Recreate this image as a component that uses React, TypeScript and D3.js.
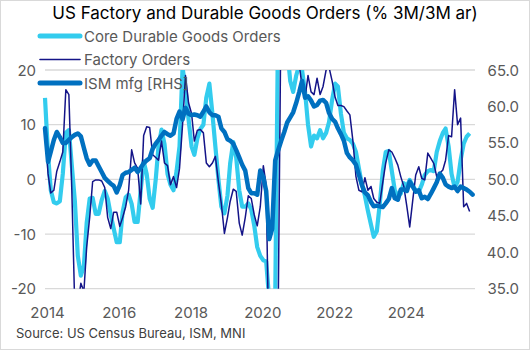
import React from 'react';
import * as d3 from 'd3';

// monthly, Jan 2014 onwards (% 3M/3M ar)
const coreDurable = [
  14.9, 4.5, -2.0, -4.2, -4.4, -4.0, 1.0, 8.5, 9.0, 2.5, -4.0, -14.0,
  -17.6, -15.8, -8.0, -3.5, -3.4, -6.3, -6.3, -3.8, -2.1, -3.5, -6.5, -9.0,
  -11.5, -11.5, -6.0, -3.3, -2.8, -4.5, -7.8, -7.8, -2.0, 3.3, 1.0, -3.5,
  -5.2, 0.0, 6.0, 9.1, 6.5, 1.0, -1.0, -2.0, 1.5, 6.0, 20.5, 16.5,
  11.0, 6.0, 4.5, 7.5, 9.2, 10.0, 15.0, 17.5, 12.0, 6.0, 0.0, -5.0,
  -6.2, -3.0, 3.0, 6.8, 4.0, -2.0, -5.0, -5.0, -4.4, -5.5, -8.5, -12.4,
  -14.0, -14.8, -15.0, -22.0, -32.0, -22.0, 30.0, 35.0, 28.0, 24.0, 18.0, 16.0,
  19.0, 21.0, 20.0, 16.0, 10.0, 6.0, 8.0, 7.5, 9.0, 7.5, 8.5, 10.5,
  14.5, 17.5, 17.0, 12.0, 8.5, 7.5, 7.2, 6.5, 5.0, 2.0, -1.0, -3.0,
  -5.8, -8.3, -10.5, -9.5, -4.5, 1.5, 5.0, 5.2, 1.5, -2.0, -3.0, -2.6,
  -0.7, -1.3, -0.1, -1.2, -2.0, -2.3, -1.0, 0.8, 1.5, 1.7, 1.5, 5.0,
  7.0, 8.5, 9.3, 6.0, 1.0, -1.5, -0.5, 3.5, 6.5, 7.8, 8.4,
];

const factoryOrders = [
  9.1, 1.0, -2.5, -2.0, 1.5, 3.2, 5.0, 16.4, 15.5, -2.0, -24.0, -23.0,
  -19.0, -20.5, -12.4, -6.9, -0.4, -0.1, -0.1, -0.3, -1.5, -7.0, -9.0, -6.0,
  -6.0, -8.6, -7.0, -5.0, -2.0, 5.4, 3.0, 2.0, -4.5, 8.0, 9.6, 9.5,
  4.5, 4.0, 3.5, 7.0, 3.0, 2.5, -1.0, 0.5, -1.5, 2.0, 10.0, 19.0,
  14.0, 12.0, 7.0, 9.0, 9.1, 8.5, 3.0, 2.3, 3.0, 4.2, -0.5, -4.5,
  -9.9, -7.0, -4.0, -1.8, -2.2, -8.0, -10.2, -7.0, -3.0, -3.5, -6.5, -8.5,
  -5.0, 2.5, -1.0, -35.0, -45.0, -40.0, -25.0, 35.0, 40.0, 35.0, 28.0, 25.0,
  22.0, 21.0, 17.0, 15.0, 19.0, 16.0, 15.5, 18.5, 15.5, 17.0, 20.0, 20.5,
  18.0, 15.0, 13.5, 13.5, 13.3, 12.5, 11.8, 7.0, 0.5, -2.0, -2.3, 0.3,
  -2.0, -1.3, -3.5, -4.2, -4.4, -0.5, 3.0, 5.4, 5.0, 3.9, 2.6, 0.5,
  -1.3, -5.0, -8.7, -3.8, 0.8, 2.3, 0.2, -0.1, 4.8, 3.9, 2.9, 0.5,
  1.1, 1.7, 3.5, 8.0, 7.8, 16.4, 10.0, 11.2, -5.0, -4.4, -5.9,
];

const ismMfg = [
  57.0, 52.4, 53.8, 55.4, 56.5, 55.8, 55.0, 55.0, 55.4, 55.8, 56.1, 56.3,
  55.9, 54.3, 52.9, 52.0, 52.6, 52.6, 51.8, 51.0, 50.2, 49.8, 49.4, 49.1,
  48.2, 49.2, 50.6, 50.9, 51.0, 51.3, 51.6, 51.0, 51.6, 52.2, 52.6, 52.9,
  54.2, 54.9, 55.4, 56.0, 56.5, 56.2, 56.0, 56.3, 58.3, 59.3, 58.2, 59.8,
  59.0, 58.8, 58.9, 58.8, 58.6, 59.3, 60.0, 59.2, 58.8, 58.8, 58.6, 57.0,
  56.5, 55.5, 55.3, 54.9, 54.0, 53.0, 52.0, 51.2, 48.8, 48.1, 48.1, 47.9,
  51.2, 50.3, 48.4, 41.8, 43.2, 52.6, 54.0, 55.3, 56.5, 57.8, 58.5, 59.2,
  60.5, 62.0, 63.5, 61.2, 61.4, 60.8, 60.0, 60.2, 60.8, 60.9, 60.5, 59.1,
  58.3, 57.9, 57.0, 56.2, 55.3, 53.6, 53.0, 52.6, 52.0, 50.6, 49.2, 48.2,
  47.8, 46.9, 46.3, 46.4, 46.3, 46.2, 46.7, 47.3, 48.8, 47.4, 47.2, 48.6,
  48.6, 48.4, 49.7, 49.0, 48.3, 48.5, 47.4, 47.6, 47.3, 48.0, 48.8, 49.6,
  50.8, 50.2, 49.3, 49.0, 48.8, 49.0, 48.4, 49.0, 48.8, 48.6, 48.3, 47.9,
];

const xTickYears = [2014, 2016, 2018, 2020, 2022, 2024];
const leftTicks = [-20, -10, 0, 10, 20];
const rightTicks = [35, 40, 45, 50, 55, 60, 65];

const W = 530;
const H = 350;
const plot = { left: 45, right: 475, top: 70, bottom: 288.7 };

const colors = {
  core: '#33CCEE',
  factory: '#141488',
  ism: '#0070C0',
  grid: '#D9D9D9',
  text: '#595959',
};

const monthDate = (i: number) => new Date(2014, i, 1);

const App: React.FC = () => {
  const x = d3.scaleTime()
    .domain([monthDate(0), monthDate(143)])
    .range([plot.left, 472.6]);
  const yL = d3.scaleLinear().domain([-20, 20]).range([plot.bottom, plot.top]);
  const yR = d3.scaleLinear().domain([35, 65]).range([plot.bottom, plot.top]);

  const lineL = d3.line<number>()
    .x((_, i) => x(monthDate(i)))
    .y(d => yL(d));
  const lineR = d3.line<number>()
    .x((_, i) => x(monthDate(i)))
    .y(d => yR(d));

  const font = 'Inter, "Open Sans", sans-serif';

  const legend = [
    { label: 'Core Durable Goods Orders', color: colors.core, w: 5 },
    { label: 'Factory Orders', color: colors.factory, w: 1.6 },
    { label: 'ISM mfg [RHS]', color: colors.ism, w: 5 },
  ];

  return (
    <svg width={W} height={H} style={{ position: 'absolute', left: 0, top: 0, fontFamily: font }}>
      <rect x={0.5} y={0.5} width={W - 1} height={H - 1} fill="#fff" stroke={colors.grid} />
      <defs>
        <clipPath id="plotClip">
          <rect x={plot.left - 5} y={plot.top} width={plot.right - plot.left + 10} height={plot.bottom - plot.top} />
        </clipPath>
      </defs>

      <text x={W / 2} y={19} textAnchor="middle" fontSize={17} fill="#000">
        US Factory and Durable Goods Orders (% 3M/3M ar)
      </text>

      {/* gridlines + left axis */}
      {leftTicks.map(t => (
        <g key={`l${t}`}>
          <line x1={plot.left} x2={plot.right} y1={yL(t)} y2={yL(t)} stroke={colors.grid} strokeWidth={1.3} />
          <text x={36} y={yL(t) + 5.5} textAnchor="end" fontSize={15} fill={colors.text}>{t}</text>
        </g>
      ))}

      {rightTicks.map(t => (
        <text key={`r${t}`} x={519} y={yR(t) + 5.5} textAnchor="end" fontSize={15} fill={colors.text}>
          {t.toFixed(1)}
        </text>
      ))}

      {xTickYears.map(yr => (
        <text key={yr} x={x(new Date(yr, 0, 1)) + 2.5} y={318} textAnchor="middle" fontSize={15} fill={colors.text}>
          {yr}
        </text>
      ))}

      <g clipPath="url(#plotClip)" fill="none" strokeLinejoin="round">
        <path d={lineL(coreDurable) || ''} stroke={colors.core} strokeWidth={4.2} />
        <path d={lineL(factoryOrders) || ''} stroke={colors.factory} strokeWidth={1.5} />
        <path d={lineR(ismMfg) || ''} stroke={colors.ism} strokeWidth={4.5} strokeLinecap="round" />
      </g>

      {/* legend */}
      {legend.map((l, i) => (
        <g key={l.label} transform={`translate(0,${36 + i * 23.5})`}>
          <line x1={40} x2={80} y1={0} y2={0} stroke={l.color} strokeWidth={l.w} strokeLinecap="round" />
          <text x={84} y={5.5} fontSize={15} fill={colors.text}>{l.label}</text>
        </g>
      ))}

      <text x={16} y={338} fontSize={13} fill="#404040">Source: US Census Bureau, ISM, MNI</text>
    </svg>
  );
};

export default App;
